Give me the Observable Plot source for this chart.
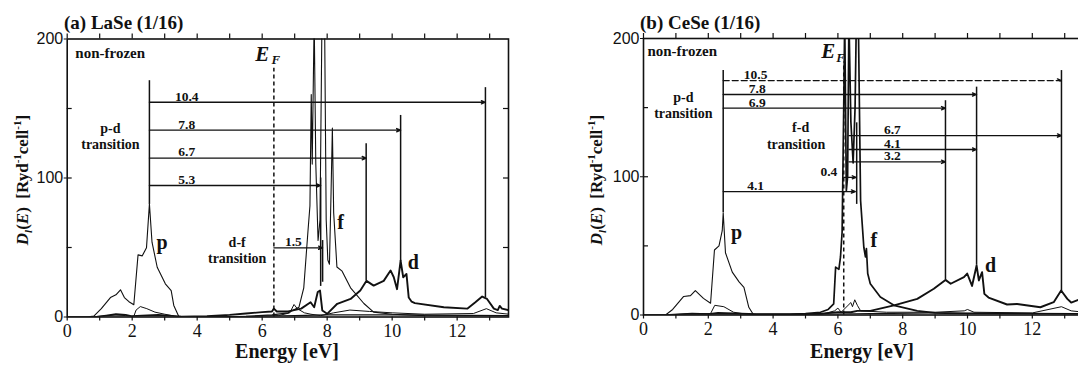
<!DOCTYPE html>
<html><head><meta charset="utf-8">
<script src="https://cdn.jsdelivr.net/npm/d3@7"></script>
<script src="https://cdn.jsdelivr.net/npm/@observablehq/plot@0.6"></script>
<style>
html,body{margin:0;padding:0;background:#fff;overflow:hidden;}
#wrap{position:relative;width:1078px;height:365px;overflow:hidden;font-family:"Liberation Serif",serif;color:#111;}
.title{position:absolute;font-weight:bold;font-size:19px;line-height:1;white-space:nowrap;}
.xlab{position:absolute;font-weight:bold;font-size:20px;line-height:1;white-space:nowrap;transform:translateX(-50%);}
.ylab{position:absolute;font-weight:bold;font-size:17px;line-height:1;white-space:nowrap;transform:translate(-50%,-50%) rotate(-90deg);}
.ylab sub,.ylab sup{font-size:11px;}
svg{position:absolute;top:0;}
</style></head>
<body><div id="wrap"></div>
<script>
// ---------- data ----------
const xTicksMajor = [0, 2, 4, 6, 8, 10, 12];
const yTicksMajor = [0, 100, 200];
const titles = ["(a) LaSe (1/16)", "(b) CeSe (1/16)"];

// Panel (a) LaSe : partial DOS [energy eV, D]
const laSe_p = [[0,0],[0.6,0],[0.82,0.6],[1.05,6],[1.33,14],[1.5,16],[1.64,19.6],[1.76,14],[1.9,11],[2.05,8.8],[2.18,44.7],[2.31,44],[2.44,49.8],[2.53,81.4],[2.61,53.8],[2.77,35.8],[3.02,23.9],[3.2,19],[3.28,8.3],[3.43,0.6],[3.6,0],[5,0.3],[7,1],[8,1.5],[10,1.5],[13.6,1]];
const laSe_f = [[0,0],[4,0],[5.5,0.5],[6.3,1.5],[6.8,3],[7.13,7],[7.28,21],[7.41,62],[7.47,80],[7.51,160],[7.54,110],[7.6,215],[7.65,110],[7.72,55],[7.78,70],[7.84,215],[7.92,215],[7.97,70],[8.02,41],[8.07,38],[8.12,90],[8.16,136],[8.2,75],[8.3,36],[8.46,33],[8.72,21],[9.13,9.7],[9.43,3.5],[10,2],[11,1],[13.6,0.5]];
const laSe_d = [[0,0],[0.9,0],[1.2,1],[1.5,2],[1.8,1.5],[2.0,0.5],[2.3,1],[2.8,1.5],[3.5,0.3],[4.3,0.5],[5,1.5],[5.5,2.5],[6,3.5],[6.3,4],[6.36,6],[6.45,4],[6.8,4],[7.2,6],[7.49,10.6],[7.6,7],[7.71,18],[7.78,19],[7.85,4.7],[8.0,2.3],[8.31,9.5],[8.72,13],[9.02,19],[9.21,26],[9.43,22.6],[9.74,26],[9.95,33.5],[10.05,28.6],[10.15,20],[10.26,40.6],[10.34,28.6],[10.44,31],[10.51,14],[10.6,11],[10.7,10],[11.59,7],[12.31,6],[12.56,10.6],[12.77,14.7],[12.92,13],[13.13,6],[13.25,5],[13.31,8],[13.38,6],[13.58,5]];
const laSe_s = [[0.7,0],[1.0,0.5],[1.5,1.5],[1.8,1],[2.05,0.5],[2.12,5],[2.25,7.5],[2.45,6],[2.7,3.5],[3.0,2],[3.3,0.7],[3.6,0],[5.5,0.2],[6.5,1],[6.85,3],[6.98,9],[7.08,6],[7.3,3],[7.5,2],[7.8,1],[8.2,3],[8.7,5],[9.3,4],[10,3],[11,2],[12.5,2.5],[12.9,6],[13.2,3],[13.6,2]];

// Panel (b) CeSe
const ceSe_p = [[0,0],[0.68,0],[0.9,4],[1.24,13.4],[1.45,14],[1.6,17.7],[1.85,12],[2.07,8.5],[2.19,47],[2.33,50],[2.43,61],[2.46,74],[2.53,45],[2.74,31],[2.95,24],[3.1,20],[3.25,5.6],[3.4,0],[3.6,0],[5,0.3],[7,1],[9,1.5],[13.6,1]];
const ceSe_f = [[0,0],[4.5,0.3],[5.0,1],[5.46,2],[5.7,4],[5.87,8],[5.93,34.6],[6.03,33],[6.08,42],[6.13,60],[6.18,150],[6.21,215],[6.26,90],[6.3,100],[6.34,215],[6.4,140],[6.47,110],[6.53,150],[6.57,215],[6.63,215],[6.7,82.8],[6.8,49],[6.85,42],[6.88,48],[6.92,30],[7.0,22.6],[7.31,13],[7.73,7],[8.45,3],[9,1.5],[10,1],[13.6,0.5]];
const ceSe_d = [[0,0],[0.8,0],[1.5,1],[2.0,0.5],[2.3,1.5],[3,1],[3.5,0.5],[4.5,0.5],[5.5,1],[6.0,2],[6.4,2],[6.6,3],[7.0,3],[7.73,7],[8.45,11.7],[8.96,19],[9.32,25.4],[9.48,22.6],[9.89,27.4],[9.99,30],[10.14,21],[10.28,35.8],[10.35,25],[10.45,31],[10.52,15.3],[10.65,12.6],[11.22,7.6],[11.53,8],[12.25,5.6],[12.66,9.3],[12.89,17.7],[13.08,11.7],[13.2,9],[13.43,11],[13.6,10]];
const ceSe_s = [[0.7,0],[1.5,1],[2.07,1],[2.2,7],[2.48,6],[2.78,2],[3.2,0.5],[5.5,0.5],[5.9,3],[6.0,5],[6.1,2],[6.4,9],[6.45,6],[6.52,11],[6.6,7],[6.7,3],[7.5,2],[9,2],[9.9,3],[10,4],[10.2,2],[12,1.5],[12.9,6],[13.2,3],[13.6,2]];

// transitions: start energy, end energy, level, label
const laSe_arrows = [
  {x1:2.53, x2:12.87, y:154.5, label:"10.4", lx:3.68},
  {x1:2.53, x2:10.26, y:134.4, label:"7.8", lx:3.68},
  {x1:2.53, x2:9.2,  y:114.3, label:"6.7", lx:3.68},
  {x1:2.53, x2:7.8,  y:94.6,  label:"5.3", lx:3.68},
  {x1:6.36, x2:7.86, y:49.8,  label:"1.5", lx:6.96}
];
const laSe_vlines = [
  {x:2.53, y1:81, y2:170}, {x:12.87, y1:14, y2:165}, {x:10.26, y1:40, y2:145},
  {x:9.2, y1:26, y2:124.6}, {x:7.8, y1:22, y2:100}, {x:7.86, y1:25, y2:55}
];
const laSe_EF = 6.36;
const ceSe_arrows = [
  {x1:2.46, x2:12.9,  y:169.6, label:"10.5", lx:3.46, dashed:true},
  {x1:2.46, x2:10.28, y:159.5, label:"7.8",  lx:3.51},
  {x1:2.46, x2:9.32,  y:149.6, label:"6.9",  lx:3.51},
  {x1:2.46, x2:6.54,  y:89.3,  label:"4.1",  lx:3.46},
  {x1:6.34, x2:12.9,  y:129.8, label:"6.7",  lx:7.68},
  {x1:6.34, x2:10.28, y:119.7, label:"4.1",  lx:7.68},
  {x1:6.34, x2:9.32,  y:110.8, label:"3.2",  lx:7.68},
  {x1:6.18, x2:6.56,  y:99.6,  label:"0.4",  lx:5.72}
];
const ceSe_vlines = [
  {x:2.46, y1:74, y2:176.8}, {x:12.9, y1:17, y2:176.8}, {x:10.28, y1:36, y2:164.8},
  {x:9.32, y1:25.4, y2:155}, {x:6.58, y1:80, y2:139}
];
const ceSe_EF = 6.18;

// text annotations [energy, D, text]
const laSe_lead = [[0.25,189.6,"non-frozen"]];
const ceSe_lead = [[0.12,190.8,"non-frozen"]];
const laSe_notes = [[1.33,135.6,"p-d"],[1.33,124,"transition"],[5.23,53.8,"d-f"],[5.23,42,"transition"]];
const ceSe_notes = [[1.23,157,"p-d"],[1.23,145.8,"transition"],[4.85,135.3,"f-d"],[4.71,123.3,"transition"]];
const laSe_orb = [[2.92,53.8,"p"],[8.41,68.2,"f"],[10.65,39.4,"d"]];
const ceSe_orb = [[2.87,59.9,"p"],[7.11,53.9,"f"],[10.71,35.8,"d"]];
const laSe_Elab = {e:[6.0,189], f:[6.42,185]};
const ceSe_Elab = {e:[5.7,191], f:[6.08,186]};

// ---------- drawing ----------
const XMAX = 13.58;
const SERIF = "Liberation Serif";
const wrap = document.getElementById("wrap");

function panel(o) {
  const ink = "#111";
  const curves = [
    [o.p, 1.1], [o.s, 1.0], [o.f, o.fw], [o.d, 1.9]
  ];
  const minorX = d3.range(0, 14, 1);
  const minorY = [50, 100, 150];
  const pxX = (o.width - o.mL - o.mR) / XMAX, pxY = (o.height - o.mT - o.mB) / 200;
  const marks = [
    ...curves.map(([data, w]) => Plot.line(data, {x: d => d[0], y: d => d[1], stroke: ink, strokeWidth: w, clip: true})),
    Plot.ruleX([o.ef], {y1: 0, y2: o.efTop, stroke: ink, strokeWidth: 1.5, strokeDasharray: "4,3"}),
    Plot.ruleX(o.vlines, {x: "x", y1: "y1", y2: "y2", stroke: ink, strokeWidth: 1.5}),
    Plot.arrow(o.arrows.filter(d => !d.dashed), {x1: "x1", x2: "x2", y1: "y", y2: "y", stroke: ink, strokeWidth: 1.3, headLength: 5, headAngle: 45}),
    Plot.arrow(o.arrows.filter(d => d.dashed), {x1: "x1", x2: "x2", y1: "y", y2: "y", stroke: ink, strokeWidth: 1.3, headLength: 5, headAngle: 45, strokeDasharray: "6,3"}),
    Plot.text(o.arrows, {x: "lx", y: "y", text: "label", dy: -6, fontFamily: SERIF, fontWeight: "bold", fontSize: 13.5, fill: ink}),
    Plot.text(o.lead, {x: d => d[0], y: d => d[1], text: d => d[2], textAnchor: "start", fontFamily: SERIF, fontWeight: "bold", fontSize: 15, fill: ink}),
    Plot.text(o.notes, {x: d => d[0], y: d => d[1], text: d => d[2], fontFamily: SERIF, fontWeight: "bold", fontSize: 14, fill: ink}),
    Plot.text(o.orb, {x: d => d[0], y: d => d[1], text: d => d[2], fontFamily: SERIF, fontWeight: "bold", fontSize: 20, fill: ink}),
    Plot.text([o.elab.e], {x: d => d[0], y: d => d[1], text: ["E"], fontFamily: SERIF, fontWeight: "bold", fontStyle: "italic", fontSize: 21, fill: ink}),
    Plot.text([o.elab.f], {x: d => d[0], y: d => d[1], text: ["F"], fontFamily: SERIF, fontWeight: "bold", fontStyle: "italic", fontSize: 13, fill: ink}),
    // ticks: left/right inward, top/bottom outward
    Plot.ruleY(minorY, {x1: 0, x2: 5 / pxX, stroke: ink, strokeWidth: 1.2}),
    Plot.ruleY(minorY, {x1: XMAX - 5 / pxX, x2: XMAX, stroke: ink, strokeWidth: 1.2}),
    Plot.ruleX(minorX, {y1: 200, y2: 200 + 5 / pxY, stroke: ink, strokeWidth: 1.2}),
    Plot.ruleX(minorX, {y1: 0, y2: -4 / pxY, stroke: ink, strokeWidth: 1.2}),
    Plot.axisY({ticks: yTicksMajor, tickSize: 3, tickPadding: 1, fontFamily: "Liberation Sans", fontSize: 16, label: null, fill: ink}),
    Plot.axisX({ticks: xTicksMajor, tickSize: 0, tickPadding: 7, fontFamily: SERIF, fontSize: 18, label: null, fill: ink}),
    Plot.frame({stroke: ink, strokeWidth: 1.6})
  ];
  const svg = Plot.plot({
    width: o.width, height: o.height,
    marginLeft: o.mL, marginRight: o.mR, marginTop: o.mT, marginBottom: o.mB,
    x: {domain: [0, XMAX], axis: null},
    y: {domain: [0, 200], axis: null},
    style: {background: "transparent", overflow: "visible", color: ink},
    marks
  });
  svg.style.left = o.left + "px";
  wrap.appendChild(svg);
}

panel({left: 0, width: 540, height: 365, mL: 66.7, mR: 32, mT: 38.5, mB: 48.5,
  p: laSe_p, s: laSe_s, f: laSe_f, d: laSe_d, fw: 1.1, ef: laSe_EF, efTop: 179,
  vlines: laSe_vlines, arrows: laSe_arrows, lead: laSe_lead, notes: laSe_notes, orb: laSe_orb, elab: laSe_Elab});
panel({left: 540, width: 560, height: 365, mL: 103, mR: 17, mT: 38, mB: 50.5,
  p: ceSe_p, s: ceSe_s, f: ceSe_f, d: ceSe_d, fw: 1.7, ef: ceSe_EF, efTop: 183,
  vlines: ceSe_vlines, arrows: ceSe_arrows, lead: ceSe_lead, notes: ceSe_notes, orb: ceSe_orb, elab: ceSe_Elab});

function addHTML(cls, html, left, top) {
  const el = document.createElement("div");
  el.className = cls; el.innerHTML = html;
  el.style.left = left + "px"; el.style.top = top + "px";
  wrap.appendChild(el);
}
addHTML("title", titles[0], 64, 13);
addHTML("title", titles[1], 640, 13);
addHTML("xlab", "Energy [eV]", 287, 341);
addHTML("xlab", "Energy [eV]", 862, 341);
const ylabHTML = "<i>D<sub>l</sub></i>(<i>E</i>)&nbsp;&nbsp;[Ryd<sup>-1</sup>cell<sup>-1</sup>]";
addHTML("ylab", ylabHTML, 23, 180);
addHTML("ylab", ylabHTML, 597, 180);
</script></body></html>
